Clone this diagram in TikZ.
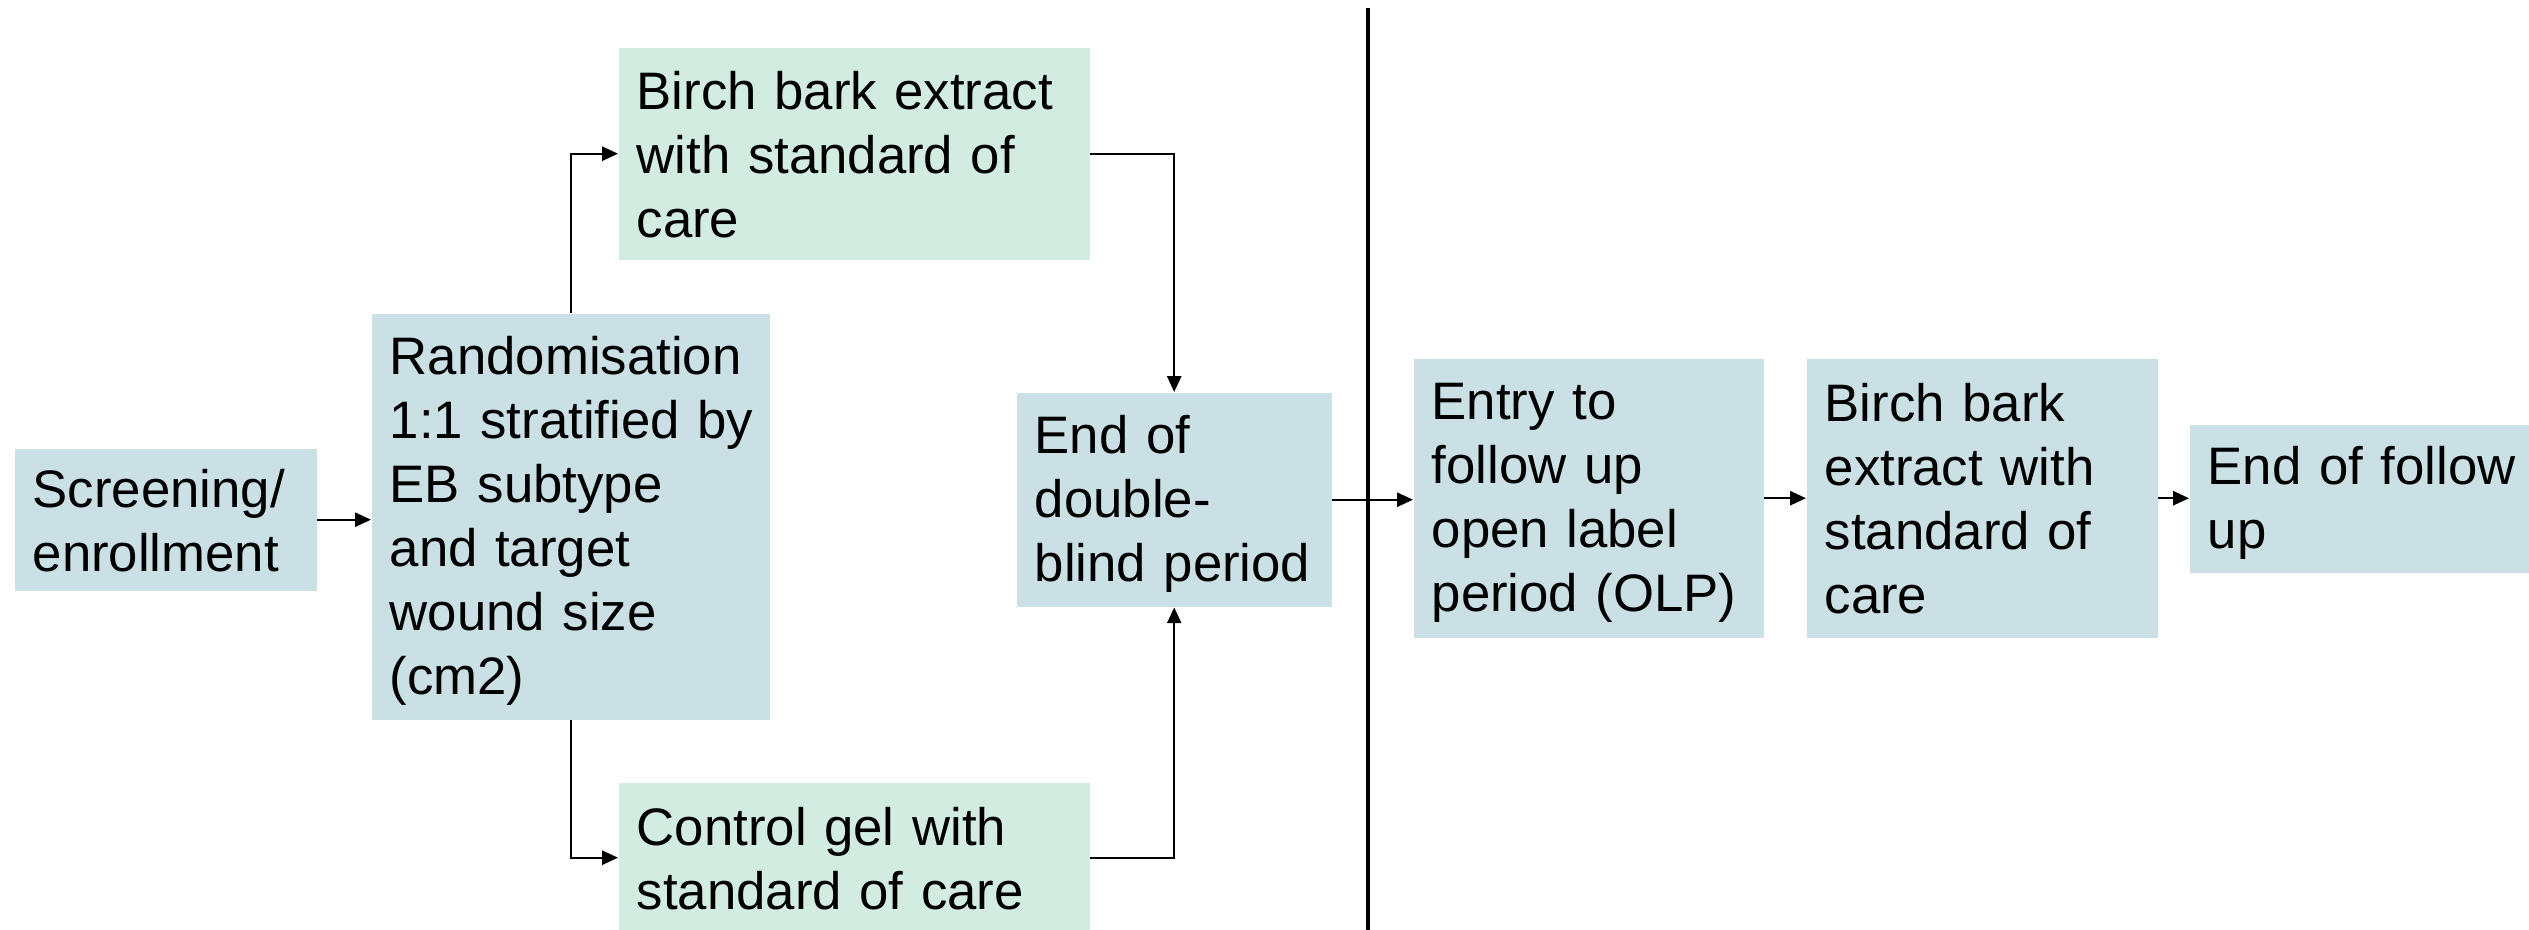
\documentclass[tikz,border=0pt]{standalone}
\usepackage{fontspec}
\setmainfont{Liberation Sans}
\usetikzlibrary{arrows.meta,calc}
\definecolor{boxblue}{RGB}{202,224,229}
\definecolor{boxgreen}{RGB}{211,236,226}
\newcommand\mystrut{\rule[-2pt]{0pt}{15pt}}
\tikzset{
  fbox/.style={fill=boxblue, draw=none, inner xsep=0.18cm, inner ysep=0pt, align=left, anchor=north west,
    font=\fontsize{15}{18.2}\selectfont, execute at begin node=\mystrut, execute at end node=\mystrut},
  gbox/.style={fbox, fill=boxgreen},
  conn/.style={line width=0.6pt, -{Triangle[length=4.5pt,width=4pt]}},
  divider/.style={line width=0.9pt}
}
\begin{document}
\begin{tikzpicture}[x=0.01cm,y=-0.01cm]
\useasboundingbox (0,0) rectangle (2529,930);
\begin{scope}
\clip (0,0) rectangle (2529,930);
\node[fbox, text width=266*0.01cm, minimum height=142*0.01cm] (scr) at (14,448) {Screening/\\enrollment};
\node[fbox, text width=362*0.01cm, minimum height=406*0.01cm] (rnd) at (371,313) {Randomisation\\\mbox{1:1 stratified by}\\EB subtype\\and target\\wound size\\(cm2)};
\node[gbox, text width=435*0.01cm, minimum height=212*0.01cm] (bb1) at (618,47) {Birch bark extract\\with standard of\\care};
\node[gbox, text width=435*0.01cm, minimum height=150*0.01cm] (cg) at (618,782) {Control gel with\\standard of care};
\node[fbox, text width=279*0.01cm, minimum height=214*0.01cm] (edb) at (1016,392) {End of\\double-\\blind period};
\node[fbox, text width=314*0.01cm, minimum height=279*0.01cm] (ent) at (1413,358) {Entry to\\follow up\\open label\\period (OLP)};
\node[fbox, text width=315*0.01cm, minimum height=279*0.01cm] (bb2) at (1806,358) {Birch bark\\extract with\\standard of\\care};
\node[fbox, text width=330*0.01cm, minimum height=148*0.01cm] (efu) at (2189,424) {\mbox{End of follow}\\up};
\coordinate (d1) at (1368,8);
\coordinate (d2) at (1368,935);
\draw[divider] (d1) -- (d2);
\draw[conn] (scr.east) -- (scr.east -| rnd.west);
\draw[conn] (rnd.north) |- (bb1.west);
\draw[conn] (rnd.south) |- (cg.west);
\draw[conn] (bb1.east) -| (edb.north);
\draw[conn] (cg.east) -| (edb.south);
\draw[conn] (edb.east) -- (edb.east -| ent.west);
\draw[conn] (ent.east) -- (ent.east -| bb2.west);
\draw[conn] (bb2.east) -- (bb2.east -| efu.west);
\end{scope}
\end{tikzpicture}
\end{document}
